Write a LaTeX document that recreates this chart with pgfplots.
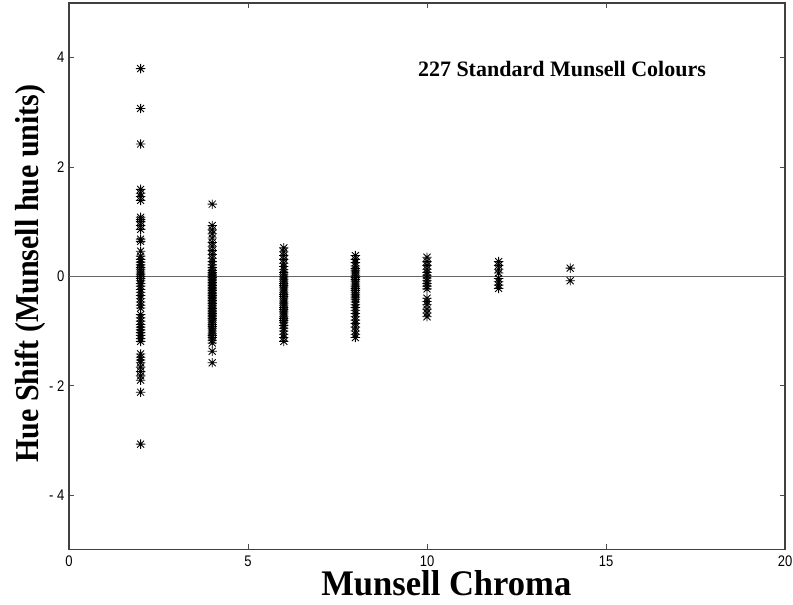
\documentclass[border=0pt]{standalone}
\usepackage{pgfplots}
\pgfplotsset{compat=1.18}
\usepackage{fontspec}
\setmainfont{Liberation Serif}
\newfontfamily\tickfont[FakeStretch=0.85]{Liberation Sans}
\newfontfamily\ylabfont[FakeStretch=0.9]{Liberation Serif}
\newfontfamily\xlabfont[FakeStretch=0.96]{Liberation Serif}

% gnuplot-like star: a plus and a cross on top of each other
\pgfdeclareplotmark{gstar}{%
  \pgfpathmoveto{\pgfqpoint{-\pgfplotmarksize}{0pt}}%
  \pgfpathlineto{\pgfqpoint{\pgfplotmarksize}{0pt}}%
  \pgfpathmoveto{\pgfqpoint{0pt}{-\pgfplotmarksize}}%
  \pgfpathlineto{\pgfqpoint{0pt}{\pgfplotmarksize}}%
  \pgfpathmoveto{\pgfqpoint{-.75\pgfplotmarksize}{-.75\pgfplotmarksize}}%
  \pgfpathlineto{\pgfqpoint{.75\pgfplotmarksize}{.75\pgfplotmarksize}}%
  \pgfpathmoveto{\pgfqpoint{-.75\pgfplotmarksize}{.75\pgfplotmarksize}}%
  \pgfpathlineto{\pgfqpoint{.75\pgfplotmarksize}{-.75\pgfplotmarksize}}%
  \pgfusepathqstroke}

\begin{document}
\begin{tikzpicture}
\begin{axis}[
    scale only axis,
    width=537pt, height=410pt,
    xmin=0, xmax=20, ymin=-5, ymax=5,
    xtick={0,5,10,15,20},
    ytick={-4,-2,0,2,4},
    yticklabels={- 4,- 2,0,2,4},
    tick align=inside,
    major tick length=4pt,
    tick style={black!70, line width=0.6pt},
    axis line style={black!75, line width=0.8pt},
    /pgf/number format/assume math mode=true,
    ticklabel style={font=\tickfont\fontsize{11.5}{12}\selectfont},
    xticklabel style={yshift=-1pt},
    xlabel={\xlabfont\bfseries Munsell Chroma},
    ylabel={\ylabfont\bfseries Hue Shift (Munsell hue units)},
    xlabel style={font=\fontsize{27}{30}\selectfont, at={(axis description cs:0.527,-0.062)}, anchor=center},
    ylabel style={font=\fontsize{25}{28}\selectfont, at={(axis description cs:-0.054,0.505)}, anchor=center},
]
\addplot[gray!80!black, line width=0.6pt] coordinates {(0,0) (20,0)};
\addplot[only marks, mark=gstar, mark size=3.5pt, black, mark options={line width=0.65pt}] coordinates {
(2,3.80) (2,3.07) (2,2.42) (2,1.59) (2,1.52) (2,1.46) (2,1.39) (2,1.08) (2,1.04) (2,1.00)
(2,0.93) (2,0.86) (2,0.68) (2,0.64) (2,0.46) (2,0.37) (2,0.31) (2,0.26) (2,0.21) (2,0.16)
(2,0.12) (2,0.08) (2,0.04) (2,0.00) (2,-0.04) (2,-0.08) (2,-0.13) (2,-0.18) (2,-0.24) (2,-0.29)
(2,-0.35) (2,-0.41) (2,-0.47) (2,-0.53) (2,-0.58) (2,-0.70) (2,-0.76) (2,-0.82) (2,-0.88) (2,-0.93)
(2,-0.98) (2,-1.03) (2,-1.08) (2,-1.14) (2,-1.19) (2,-1.42) (2,-1.48) (2,-1.53) (2,-1.58) (2,-1.66)
(2,-1.74) (2,-1.82) (2,-1.90) (2,-2.12) (2,-3.07)
(4,1.32) (4,0.93) (4,0.85) (4,0.78) (4,0.70) (4,0.62) (4,0.55) (4,0.47) (4,0.40) (4,0.33)
(4,0.27) (4,0.21) (4,0.16) (4,0.11) (4,0.07) (4,0.04) (4,0.01) (4,-0.02) (4,-0.05) (4,-0.08)
(4,-0.11) (4,-0.14) (4,-0.17) (4,-0.20) (4,-0.23) (4,-0.26) (4,-0.29) (4,-0.32) (4,-0.35) (4,-0.38)
(4,-0.41) (4,-0.44) (4,-0.47) (4,-0.50) (4,-0.53) (4,-0.56) (4,-0.59) (4,-0.62) (4,-0.65) (4,-0.68)
(4,-0.71) (4,-0.74) (4,-0.77) (4,-0.80) (4,-0.84) (4,-0.88) (4,-0.92) (4,-0.96) (4,-1.00) (4,-1.04)
(4,-1.08) (4,-1.12) (4,-1.17) (4,-1.22) (4,-1.37) (4,-1.58)
(6,0.52) (6,0.45) (6,0.38) (6,0.31) (6,0.24) (6,0.18) (6,0.12) (6,0.07) (6,0.03) (6,-0.01)
(6,-0.05) (6,-0.09) (6,-0.13) (6,-0.17) (6,-0.21) (6,-0.25) (6,-0.29) (6,-0.33) (6,-0.37) (6,-0.41)
(6,-0.45) (6,-0.49) (6,-0.53) (6,-0.57) (6,-0.61) (6,-0.65) (6,-0.69) (6,-0.73) (6,-0.77) (6,-0.81)
(6,-0.85) (6,-0.90) (6,-0.95) (6,-1.00) (6,-1.06) (6,-1.12) (6,-1.19)
(8,0.38) (8,0.31) (8,0.25) (8,0.19) (8,0.14) (8,0.10) (8,0.06) (8,0.02) (8,-0.02) (8,-0.06)
(8,-0.10) (8,-0.14) (8,-0.18) (8,-0.22) (8,-0.26) (8,-0.30) (8,-0.34) (8,-0.38) (8,-0.42) (8,-0.47)
(8,-0.52) (8,-0.57) (8,-0.62) (8,-0.68) (8,-0.74) (8,-0.80) (8,-0.86) (8,-0.93) (8,-1.00) (8,-1.06)
(8,-1.12)
(10,0.35) (10,0.27) (10,0.20) (10,0.13) (10,0.07) (10,0.02) (10,-0.03) (10,-0.08) (10,-0.13) (10,-0.18)
(10,-0.23) (10,-0.40) (10,-0.46) (10,-0.52) (10,-0.60) (10,-0.67) (10,-0.74)
(12,0.27) (12,0.20) (12,0.13) (12,0.06) (12,-0.04) (12,-0.10) (12,-0.16) (12,-0.22)
(14,0.15) (14,-0.08)
};
\node[font=\bfseries\fontsize{16.5}{18}\selectfont] at (axis cs:13.77,3.8) {227 Standard Munsell Colours};
\end{axis}
% frame the page as the reference does
\pgfresetboundingbox
\path[use as bounding box] (current axis.south west) ++(-51.75pt,-41.25pt) rectangle ([xshift=6pt,yshift=2.25pt]current axis.north east);
\end{tikzpicture}
\end{document}
